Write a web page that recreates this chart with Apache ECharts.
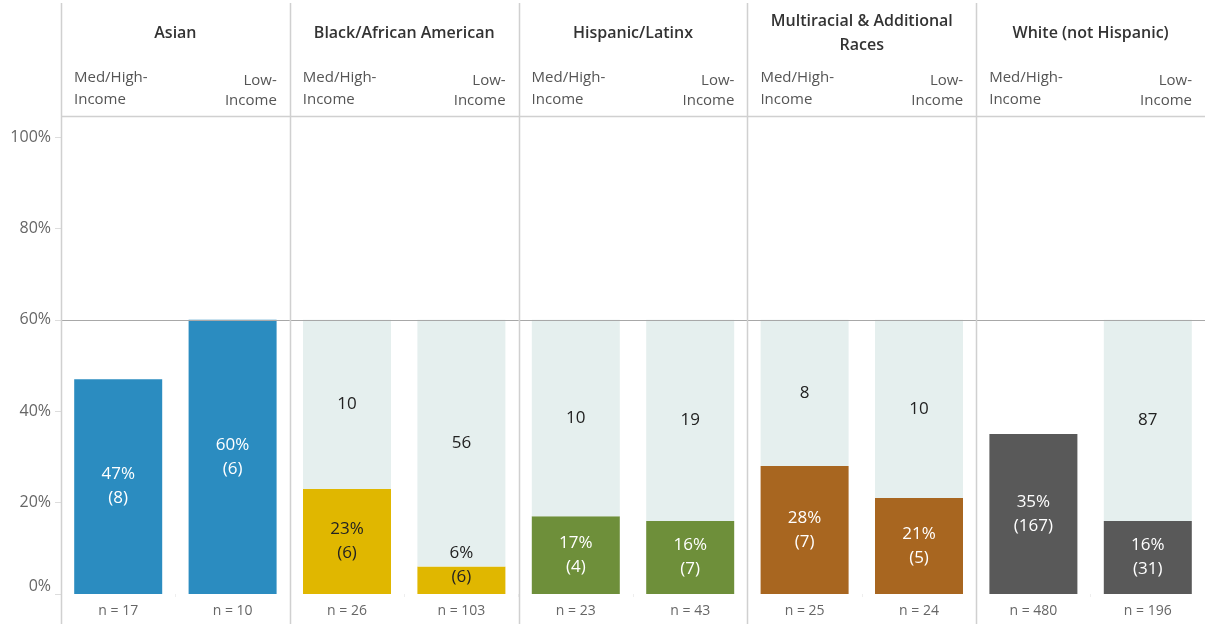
<!DOCTYPE html>
<html>
<head>
<meta charset="utf-8">
<script src="https://cdn.jsdelivr.net/npm/echarts@6/dist/echarts.min.js"></script>
<style>
  html, body { margin: 0; padding: 0; background: #fff; }
  #chart { width: 1205px; height: 624px; }
</style>
</head>
<body>
<div id="chart"></div>
<script>
// data
const races = ["Asian", "Black/African American", "Hispanic/Latinx", "Multiracial & Additional\nRaces", "White (not Hispanic)"];
const incomeGroups = ["Med/High-\nIncome", "Low-\nIncome"];
const sharePct = [[47, 60], [23, 6], [17, 16], [28, 21], [35, 16]];
const shareCounts = [[8, 6], [6, 6], [4, 7], [7, 5], [167, 31]];
const sampleN = [[17, 10], [26, 103], [23, 43], [25, 24], [480, 196]];
const remainCounts = [[null, null], [10, 56], [10, 19], [8, 10], [null, 87]];
const capPct = 60;
const yTicks = [0, 20, 40, 60, 80, 100];

const raceColors = ["#2b8cc0", "#e0b700", "#6e8f3a", "#a86620", "#595959"];
const labelColors = ["#ffffff", "#222222", "#ffffff", "#ffffff", "#ffffff"];
const restColor = "#e5efee";
const font = "'Open Sans', 'Noto Sans', sans-serif";

const chart = echarts.init(document.getElementById("chart"));

const left0 = 61, panelW = 228.8, top0 = 137, bottom0 = 30;
const grids = [], xAxes = [], yAxes = [], series = [], graphics = [];

races.forEach((race, i) => {
  const gl = left0 + i * panelW;
  grids.push({ left: gl, width: panelW, top: top0, bottom: bottom0 });
  xAxes.push({
    type: "category",
    gridIndex: i,
    data: incomeGroups,
    axisLine: { show: false },
    axisTick: { show: true, lineStyle: { color: "#eeeeee" }, length: 3 },
    axisLabel: {
      margin: 10,
      color: "#666",
      fontSize: 14,
      fontFamily: font,
      formatter: (v, idx) => "n = " + sampleN[i][idx],
    },
  });
  yAxes.push({
    type: "value",
    gridIndex: i,
    min: 0,
    max: 100,
    interval: 20,
    show: i === 0,
    axisLine: { show: false },
    splitLine: { show: false },
    axisTick: { show: true, length: 6, lineStyle: { color: "#dddddd" } },
    axisLabel: {
      margin: 10,
      color: "#666",
      fontSize: 16,
      fontFamily: font,
      formatter: "{value}%",
      verticalAlignMinLabel: "bottom",
    },
  });
  series.push({
    type: "bar",
    xAxisIndex: i,
    yAxisIndex: i,
    stack: "s" + i,
    barWidth: 88,
    itemStyle: { color: raceColors[i] },
    data: sharePct[i].map((v, k) => {
      const item = { value: v };
      if (v < 10) item.label = { position: "insideBottom", distance: 5 };
      return item;
    }),
    label: {
      show: true,
      position: "inside",
      color: labelColors[i],
      fontSize: 17,
      lineHeight: 24,
      fontFamily: font,
      formatter: (p) => p.value + "%\n(" + shareCounts[i][p.dataIndex] + ")",
    },
    markLine: {
      silent: true,
      symbol: "none",
      label: { show: false },
      lineStyle: { color: "#a8a8a8", width: 1, type: "solid" },
      data: [{ yAxis: capPct }],
    },
  });
  series.push({
    type: "bar",
    xAxisIndex: i,
    yAxisIndex: i,
    stack: "s" + i,
    barWidth: 88,
    itemStyle: { color: restColor },
    data: remainCounts[i].map((c, k) => (c == null ? "-" : capPct - sharePct[i][k])),
    label: {
      show: true,
      position: "inside",
      color: "#222",
      fontSize: 17,
      fontFamily: font,
      formatter: (p) => String(remainCounts[i][p.dataIndex]),
    },
  });

  // headers
  graphics.push({
    type: "text",
    x: gl + panelW / 2,
    y: 33,
    style: {
      text: race,
      align: "center",
      verticalAlign: "middle",
      fill: "#333",
      font: "600 16px " + font,
      lineHeight: 24,
    },
  });
  graphics.push({
    type: "text",
    x: gl + 13,
    y: 89,
    style: {
      text: incomeGroups[0],
      align: "left",
      verticalAlign: "middle",
      fill: "#555",
      font: "15px " + font,
      lineHeight: 22,
    },
  });
  graphics.push({
    type: "text",
    x: gl + panelW - 13,
    y: 91,
    style: {
      text: incomeGroups[1],
      align: "right",
      verticalAlign: "middle",
      fill: "#555",
      font: "15px " + font,
      lineHeight: 20,
    },
  });
  // panel separator
  graphics.push({
    type: "line",
    shape: { x1: Math.round(gl) + 0.5, y1: 3, x2: Math.round(gl) + 0.5, y2: 624 },
    style: { stroke: "#d0d0d0", lineWidth: 1.5 },
    z: 100,
  });
});

// header rule
graphics.push({
  type: "line",
  shape: { x1: left0, y1: 116.5, x2: 1205, y2: 116.5 },
  style: { stroke: "#d0d0d0", lineWidth: 1.5 },
});

chart.setOption({
  animation: false,
  grid: grids,
  xAxis: xAxes,
  yAxis: yAxes,
  series: series,
  graphic: graphics,
});
</script>
</body>
</html>
